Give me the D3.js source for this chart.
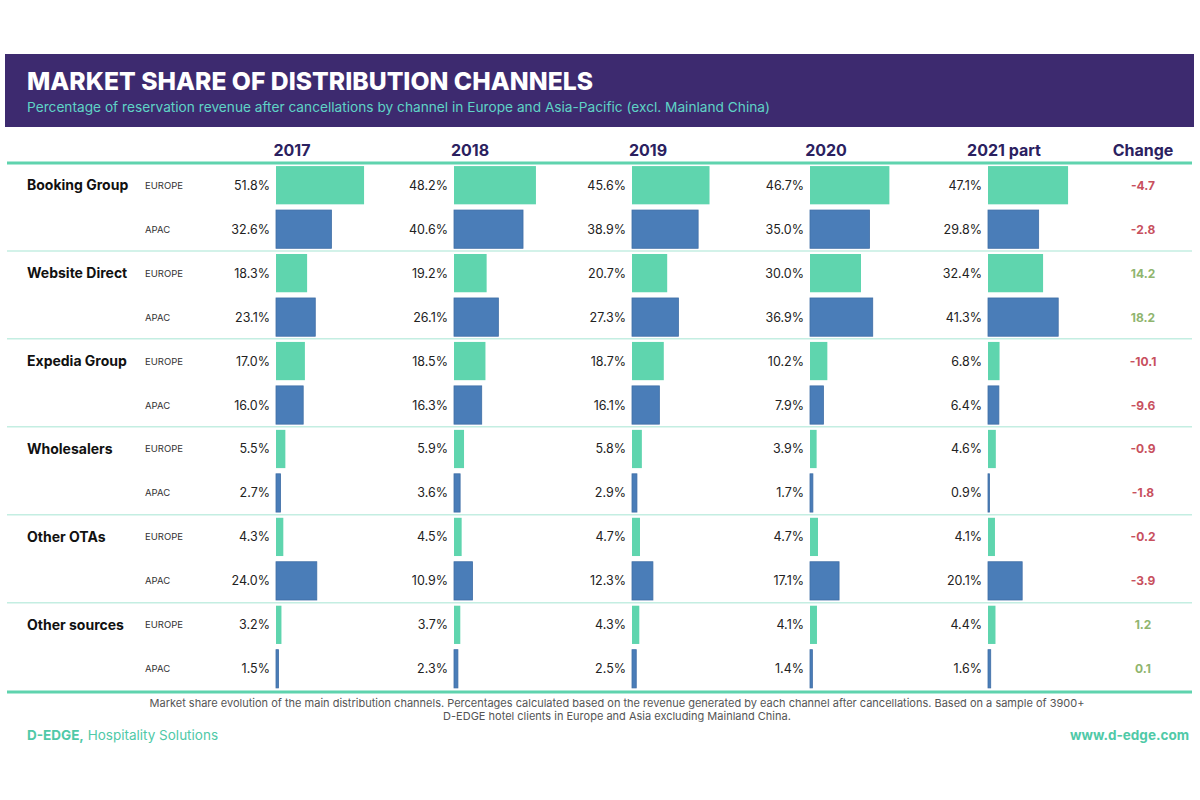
<!DOCTYPE html>
<html>
<head>
<meta charset="utf-8">
<script src="https://cdn.jsdelivr.net/npm/d3@7"></script>
<style>
  body { margin: 0; background: #fff; }
  svg { display: block; font-family: Inter, "Open Sans", sans-serif; }
</style>
</head>
<body>
<svg id="chart" width="1200" height="800"></svg>
<script>
// channel groups, years and the two regions
var groups = ["Booking Group", "Website Direct", "Expedia Group", "Wholesalers", "Other OTAs", "Other sources"];
var years = ["2017", "2018", "2019", "2020", "2021 part"];
var regions = ["EUROPE", "APAC"];

// % share per group, one entry per year
var europeValues = [
  [51.8, 48.2, 45.6, 46.7, 47.1],
  [18.3, 19.2, 20.7, 30.0, 32.4],
  [17.0, 18.5, 18.7, 10.2, 6.8],
  [5.5, 5.9, 5.8, 3.9, 4.6],
  [4.3, 4.5, 4.7, 4.7, 4.1],
  [3.2, 3.7, 4.3, 4.1, 4.4]
];
var apacValues = [
  [32.6, 40.6, 38.9, 35.0, 29.8],
  [23.1, 26.1, 27.3, 36.9, 41.3],
  [16.0, 16.3, 16.1, 7.9, 6.4],
  [2.7, 3.6, 2.9, 1.7, 0.9],
  [24.0, 10.9, 12.3, 17.1, 20.1],
  [1.5, 2.3, 2.5, 1.4, 1.6]
];
var europeChange = [-4.7, 14.2, -10.1, -0.9, -0.2, 1.2];
var apacChange = [-2.8, 18.2, -9.6, -1.8, -3.9, 0.1];

var colors = { EUROPE: "#5fd5ae", APAC: "#4a7db8" };
var teal = "#5fd3ae";

// flatten into rows
var rows = [];
groups.forEach(function(g, i) {
  rows.push({ group: g, region: "EUROPE", values: europeValues[i], change: europeChange[i], first: true });
  rows.push({ group: g, region: "APAC", values: apacValues[i], change: apacChange[i], first: false });
});

var svg = d3.select("#chart");

// header band
svg.append("rect").attr("x", 5).attr("y", 54).attr("width", 1189).attr("height", 73).attr("fill", "#3d2a6f");
svg.append("text").attr("x", 27).attr("y", 90)
  .attr("fill", "#fff").attr("font-size", 25).attr("font-weight", 800)
  .attr("textLength", 566).attr("lengthAdjust", "spacingAndGlyphs")
  .text("MARKET SHARE OF DISTRIBUTION CHANNELS");
svg.append("text").attr("x", 27).attr("y", 112)
  .attr("fill", "#5fd3c6").attr("font-size", 13.5)
  .attr("textLength", 743).attr("lengthAdjust", "spacingAndGlyphs")
  .text("Percentage of reservation revenue after cancellations by channel in Europe and Asia-Pacific (excl. Mainland China)");

// scales
var colX = d3.scaleBand().domain(years).range([276, 276 + 178 * years.length]).paddingInner(0).paddingOuter(0);
var barW = d3.scaleLinear().domain([0, 100]).range([0, 170]);
var rowY = d3.scaleBand().domain(d3.range(rows.length)).range([163, 691]).paddingInner(0.13).paddingOuter(0.07);
var step = rowY.step();
var changeX = 1143;

// column headers
svg.selectAll(".yearHead").data(years).join("text")
  .attr("class", "yearHead")
  .attr("x", d => colX(d) + 16).attr("y", 156)
  .attr("text-anchor", "middle").attr("font-size", 16).attr("font-weight", 700).attr("fill", "#2b2160")
  .text(d => d);
svg.append("text").attr("x", changeX).attr("y", 156)
  .attr("text-anchor", "middle").attr("font-size", 16).attr("font-weight", 700).attr("fill", "#2b2160")
  .text("Change");

// group separators
svg.selectAll(".sep").data(d3.range(1, groups.length)).join("line")
  .attr("class", "sep")
  .attr("x1", 7).attr("x2", 1192)
  .attr("y1", d => 163 + d * 2 * step).attr("y2", d => 163 + d * 2 * step)
  .attr("stroke", "#c4eee2").attr("stroke-width", 1.5);
svg.append("line").attr("x1", 7).attr("x2", 1192).attr("y1", 163).attr("y2", 163)
  .attr("stroke", teal).attr("stroke-width", 3);
svg.append("line").attr("x1", 7).attr("x2", 1192).attr("y1", 692).attr("y2", 692)
  .attr("stroke", teal).attr("stroke-width", 3);

var row = svg.selectAll(".row").data(rows).join("g")
  .attr("class", "row")
  .attr("transform", (d, i) => `translate(0,${rowY(i)})`);

var bh = rowY.bandwidth();

row.filter(d => d.first).append("text")
  .attr("x", 27).attr("y", bh / 2 + 5)
  .attr("font-size", 14).attr("font-weight", 700).attr("fill", "#111")
  .text(d => d.group);

row.append("text")
  .attr("x", 145).attr("y", bh / 2 + 3.5)
  .attr("font-size", 9.5).attr("fill", "#333")
  .text(d => d.region);

years.forEach(function(y, j) {
  row.append("rect")
    .attr("x", colX(y))
    .attr("y", 0)
    .attr("width", d => Math.max(barW(d.values[j]), 1.5))
    .attr("height", bh)
    .attr("fill", d => colors[d.region])
    .attr("stroke", d => d.region === "APAC" ? "#3f6ea6" : "none")
    .attr("stroke-width", 0.8);
  row.append("text")
    .attr("x", colX(y) - 6).attr("y", bh / 2 + 4.5)
    .attr("text-anchor", "end").attr("font-size", 12.5).attr("fill", "#222")
    .text(d => d.values[j].toFixed(1) + "%");
});

row.append("text")
  .attr("x", changeX).attr("y", bh / 2 + 4.5)
  .attr("text-anchor", "middle").attr("font-size", 12).attr("font-weight", 700)
  .attr("fill", d => d.change < 0 ? "#c8505e" : "#8fb56e")
  .text(d => d.change);

// footnote
svg.append("text").attr("x", 617).attr("y", 707).attr("text-anchor", "middle")
  .attr("font-size", 11).attr("fill", "#555")
  .text("Market share evolution of the main distribution channels. Percentages calculated based on the revenue generated by each channel after cancellations. Based on a sample of 3900+");
svg.append("text").attr("x", 617).attr("y", 720).attr("text-anchor", "middle")
  .attr("font-size", 11).attr("fill", "#555")
  .text("D-EDGE hotel clients in Europe and Asia excluding Mainland China.");

var brand = svg.append("text").attr("x", 27).attr("y", 740).attr("font-size", 13.5).attr("fill", "#4fc9a7");
brand.append("tspan").attr("font-weight", 700).text("D-EDGE,");
brand.append("tspan").text(" Hospitality Solutions");
svg.append("text").attr("x", 1189).attr("y", 740).attr("text-anchor", "end")
  .attr("font-size", 13.5).attr("font-weight", 700).attr("fill", "#4fc9a7")
  .text("www.d-edge.com");
</script>
</body>
</html>
